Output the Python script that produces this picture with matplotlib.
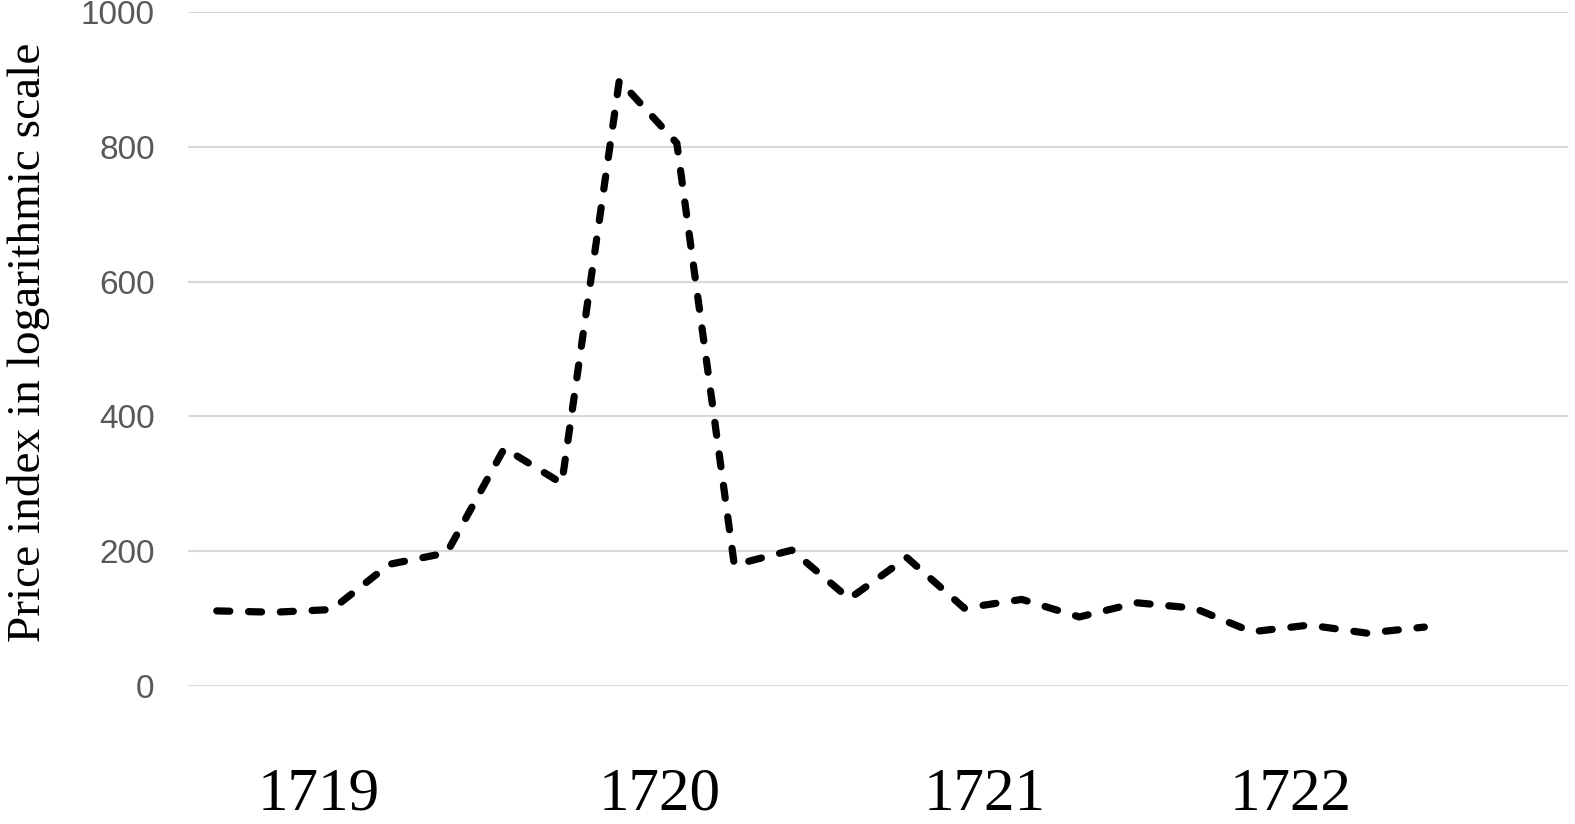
import matplotlib
matplotlib.use("Agg")
import matplotlib.pyplot as plt

values = [112, 110, 114, 181, 198, 353, 301, 898, 805, 180, 202, 130,
          191, 116, 129, 103, 124, 116, 81, 91, 79, 88]
n_slots = 24
year_labels = ["1719", "1720", "1721", "1722"]
year_positions = [1.78, 7.71, 13.36, 18.67]
y_ticks = [0, 200, 400, 600, 800, 1000]
y_label = "Price index in logarithmic scale"

fig = plt.figure(figsize=(15.75, 8.24), dpi=100)
ax = fig.add_axes([0.1194, 0.1669, 0.8762, 0.8191])

x = list(range(len(values)))
ax.plot(x, values, color="black", linewidth=5.2, linestyle=(0, (1.8, 2.6)),
        dash_capstyle="round", solid_capstyle="round", zorder=3)

ax.set_xlim(-0.5, n_slots - 0.5)
ax.set_ylim(0, 1000)
ax.set_yticks(y_ticks)
ax.set_yticklabels([str(v) for v in y_ticks], fontsize=24, color="#595959",
                   family="Liberation Sans")
ax.yaxis.grid(True, color="#d9d9d9", linewidth=1.5, zorder=0)
ax.set_axisbelow(True)
ax.tick_params(axis="y", length=0, pad=24)

ax.set_xticks(year_positions)
ax.set_xticklabels(year_labels, fontsize=44, family="Liberation Serif", color="black")
ax.tick_params(axis="x", length=0, pad=58)

for s in ax.spines.values():
    s.set_visible(False)

ax.set_ylabel(y_label, fontsize=34, family="Liberation Serif", color="black")
ax.yaxis.set_label_coords(-0.1, 0.51)

fig.savefig("out.png", dpi=100)
